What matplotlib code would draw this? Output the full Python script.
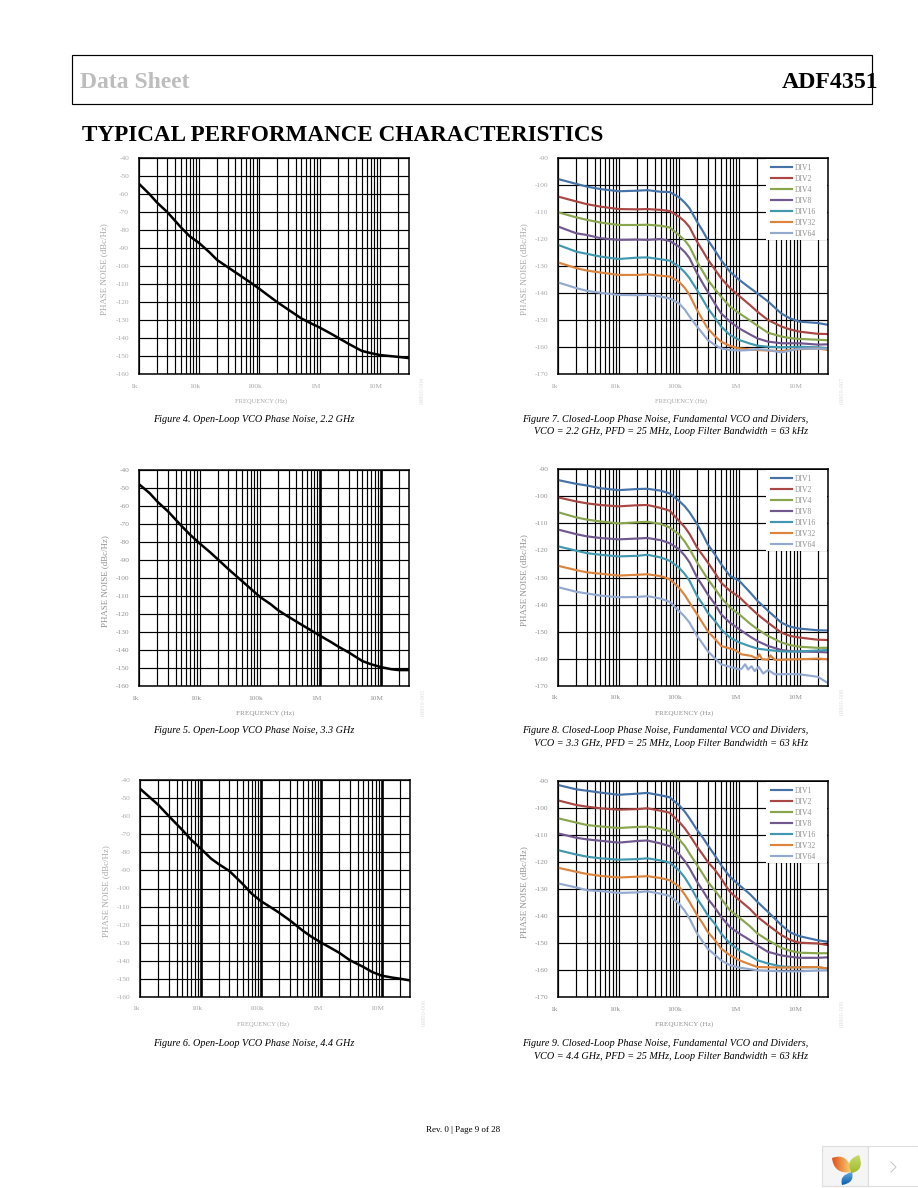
import numpy as np
import matplotlib
matplotlib.use('Agg')
import matplotlib.pyplot as plt
from matplotlib.patches import Rectangle, PathPatch
from matplotlib.path import Path
from matplotlib.colors import LinearSegmentedColormap
from matplotlib.ticker import FixedLocator, NullFormatter
from matplotlib.transforms import ScaledTranslation

plt.rcParams['font.family'] = ['Liberation Serif', 'DejaVu Serif']

W, H = 918, 1188

# open loop curves
freq_open = [1e3, 1.5e3, 2e3, 3e3, 5e3, 7e3, 1e4, 1.5e4, 2e4, 3e4, 5e4, 7e4, 1e5, 1.5e5, 2e5, 3e5, 5e5, 7e5, 1e6, 1.5e6, 2e6, 3e6, 5e6, 7e6, 1e7, 1.5e7, 2e7, 3e7]
fig4_noise = [-54, -59.8, -64.5, -70, -78.3, -83.3, -87, -92.3, -96.5, -100.5, -105.5, -108.8, -112.5, -116.9, -120, -124, -129, -131.5, -134, -137.2, -139.6, -143, -147, -148.2, -149.3, -149.9, -150.3, -151]
fig5_noise = [-48, -53, -57.6, -63, -71, -76, -80.7, -85.7, -89.5, -95, -101.5, -105.8, -110.4, -114.4, -117.8, -121.5, -126, -128.9, -132, -135.4, -138, -141.3, -146, -147.8, -149.3, -150.5, -151, -151]
fig6_noise = [-44.8, -50, -53.7, -60, -67.6, -73, -77.8, -83.5, -86.5, -90.3, -97.5, -102.8, -107, -110.7, -113.4, -117.6, -123.5, -126.9, -130, -133.3, -135.7, -139.8, -143.5, -146.3, -148.3, -149.4, -150, -151]

# closed loop curves
freq_closed = [1e3, 2e3, 3e3, 5e3, 1e4, 2e4, 3e4, 5e4, 7e4, 1e5, 1.25e5, 1.5e5, 2e5, 2.5e5, 3e5, 4e5, 5e5, 7e5, 1e6, 1.5e6, 2e6, 3e6, 5e6, 7e6, 1e7, 2e7, 3e7]

fig7_div1 = [-97.7, -99.5, -100.5, -101.4, -102.2, -102, -101.8, -102.4, -102.5, -104.4, -106.4, -108.5, -113.5, -117, -120.2, -124.3, -127.7, -132, -135, -138, -140, -143, -147.5, -149.3, -150.5, -151, -151.7]
fig7_div2 = [-104.2, -106, -107, -107.9, -108.8, -108.9, -108.8, -109.1, -109.5, -111.6, -113.4, -115.5, -120.9, -124.4, -127.4, -131.3, -134.4, -138, -141, -144.3, -146.8, -149.9, -152.3, -153.4, -154.2, -155, -155.1]
fig7_div4 = [-110, -111.9, -112.8, -113.8, -114.7, -114.7, -114.6, -115, -115.6, -118.4, -120.4, -122.7, -128.3, -132, -135, -138.6, -141.2, -144.9, -147.4, -150, -152, -154.6, -156, -156.6, -156.9, -157.2, -157.4]
fig7_div8 = [-115.3, -117.8, -118.4, -119.6, -120.2, -120.1, -120.2, -119.9, -120.6, -122.7, -124.7, -127, -132.6, -136.4, -139.4, -144, -147.4, -150.5, -153, -155.2, -156.7, -157.9, -158.5, -158.5, -158.5, -159, -158.9]
fig7_div16 = [-122.1, -124.6, -125.4, -126.4, -127.3, -126.8, -126.7, -127.4, -127.9, -130.1, -132.2, -134.4, -138.8, -142.4, -145.5, -149.2, -152.3, -155.4, -157.3, -158.6, -159.4, -159.8, -160, -159.9, -159.8, -160, -160.4]
fig7_div32 = [-128.6, -130.7, -131.6, -132.3, -133.2, -133.2, -133, -133.5, -133.8, -135.7, -138, -140.6, -146.2, -150, -153, -156, -157.9, -159.5, -160.4, -160.8, -161, -161.2, -161.4, -161, -160.7, -160.4, -161]
fig7_div64 = [-136, -138.1, -139.1, -139.8, -140.6, -140.7, -140.6, -141.2, -141.9, -143.7, -146, -148.6, -152.3, -155, -157.3, -159.2, -160.4, -161, -161.2, -161, -160.7, -161, -161.9, -161.2, -160.5, -160.5, -160.5]

fig8_div1 = [-94, -95.4, -96, -97, -97.7, -97.3, -97.2, -97.9, -98.9, -101.6, -103.7, -105.9, -110.2, -114.2, -117.7, -121.6, -125, -129.4, -131.2, -135.4, -138.6, -142.3, -146.7, -148.2, -148.9, -149.5, -149.6]
fig8_div2 = [-100.4, -101.9, -102.6, -103.2, -103.7, -103.3, -103.2, -104.3, -105.3, -109, -111.4, -113.9, -118.9, -121.9, -124.4, -128.4, -131.9, -134.9, -137.2, -141, -143.6, -146.7, -150.4, -151.6, -152.2, -153, -153.1]
fig8_div4 = [-105.9, -107.8, -108.6, -109.3, -110, -109.6, -109.4, -110.2, -111.5, -114, -116.7, -119.5, -124.4, -127.8, -130.6, -134.3, -137.4, -141.1, -143.6, -147, -149.1, -151.6, -154, -155, -155.6, -156, -156]
fig8_div8 = [-112.3, -114, -114.8, -115.4, -115.9, -115.6, -115.4, -116.2, -117.3, -119.5, -121.9, -124.4, -130, -133.3, -136.2, -140, -143.6, -146.7, -149.1, -151.8, -153.5, -155.3, -156.8, -157.2, -157.4, -157.5, -157.7]
fig8_div16 = [-118.5, -120.1, -121, -121.6, -122.2, -122, -121.6, -122.6, -123.8, -126.3, -128.7, -131.2, -136.8, -140, -143, -146.2, -149.1, -152.2, -154, -155.4, -156.3, -156.8, -157.3, -157.4, -157.3, -157, -156.8]
# DIV32 and DIV64 ripple above 700 kHz, so they have their own frequency lists
freq_fig8_div32 = [1e3, 2e3, 3e3, 5e3, 1e4, 2e4, 3e4, 5e4, 7e4, 1e5, 1.25e5, 1.5e5, 2e5, 2.5e5, 3e5, 4e5, 5e5, 8.5e5, 1.09e6, 1.6e6, 1.95e6, 2.15e6, 2.4e6, 3e6, 3.3e6, 3.9e6, 7e6, 1e7, 2e7, 3e7]
fig8_div32 = [-125.7, -127.3, -128.1, -128.6, -129.3, -129, -128.8, -129.5, -130.6, -133.7, -136.5, -139.3, -143.6, -147, -149.8, -152.8, -155.3, -156.8, -158.4, -159, -160, -158.4, -160.2, -160.4, -158.8, -160.5, -160.3, -160.2, -160, -160.2]
freq_fig8_div64 = [1e3, 2e3, 3e3, 5e3, 1e4, 2e4, 3e4, 5e4, 7e4, 1e5, 1.25e5, 1.5e5, 2e5, 2.5e5, 3e5, 4e5, 5e5, 7e5, 1e6, 1.1e6, 1.25e6, 1.4e6, 1.6e6, 1.8e6, 2.1e6, 2.5e6, 3e6, 3.9e6, 7e6, 1e7, 2e7, 3e7]
fig8_div64 = [-133.6, -135.3, -135.9, -136.7, -137.3, -137.2, -136.9, -137.8, -139, -142.3, -144.5, -146.7, -151.6, -154.6, -157.2, -160, -162.1, -163, -164, -163.7, -162.1, -164, -162.8, -164.6, -163, -165.5, -164.2, -165.8, -165.7, -165.8, -166.7, -169.1]

fig9_div1 = [-91.5, -93.1, -93.6, -94.3, -95.1, -94.7, -94.4, -95.3, -96, -98.9, -101.3, -103.8, -108.1, -111, -113.7, -117.7, -121.1, -125.4, -128.5, -131.8, -134.7, -138.4, -143.3, -146, -147.4, -148.9, -149.5]
fig9_div2 = [-97.2, -98.9, -99.5, -100.1, -100.6, -100.4, -100.1, -101, -101.7, -105, -107.5, -110, -114.3, -117.3, -119.9, -123, -126, -131, -134, -137.3, -140.2, -143.3, -147, -148.8, -149.8, -150.1, -150.7]
fig9_div4 = [-103.8, -105.4, -106.3, -106.8, -107.4, -107, -106.9, -107.7, -108.5, -111.5, -114, -116.8, -121.1, -124.4, -127.3, -130.6, -133.5, -137.8, -140.5, -143.7, -146.4, -148.9, -151.7, -152.8, -153.5, -153.7, -153.7]
fig9_div8 = [-109.4, -111, -111.6, -112.1, -112.8, -112.2, -112, -113.1, -114.1, -117, -119.6, -122.3, -127.3, -130.6, -133.5, -137, -140.2, -144, -146.4, -148.8, -150.8, -153.2, -154.5, -155, -155.4, -155.4, -155.2]
fig9_div16 = [-115.6, -117.2, -118, -118.6, -119.1, -118.9, -118.6, -119.4, -120.2, -123, -125.7, -128.5, -133.5, -136.7, -139.6, -143, -146.4, -150.1, -152.6, -154.6, -156.3, -157.5, -158.6, -158.8, -158.9, -158.9, -159.4]
fig9_div32 = [-122.1, -123.6, -124.4, -125.1, -125.7, -125.4, -125.2, -125.9, -126.7, -129, -132, -134.7, -139.6, -142.8, -145.8, -149, -152, -154.4, -156.3, -157.8, -158.8, -158.9, -159, -159, -158.9, -158.8, -159.4]
fig9_div64 = [-127.9, -129.4, -130.4, -130.7, -131.4, -131.2, -130.8, -131.7, -132.5, -135.3, -138, -140.9, -146.4, -149.5, -152, -154.4, -156.3, -158.1, -159, -159.6, -160, -160.2, -160.4, -160.4, -160.4, -160.1, -160]

div_labels = ['DIV1', 'DIV2', 'DIV4', 'DIV8', 'DIV16', 'DIV32', 'DIV64']
div_colors = ['#4572A7', '#AA4643', '#89A54E', '#71588F', '#4198AF', '#DB843D', '#93A9CF']

xtick_vals = [1e3, 1e4, 1e5, 1e6, 1e7]
xtick_labels = ['1k', '10k', '100k', '1M', '10M']
open_yticks = list(range(-160, -30, 10))
closed_yticks = list(range(-170, -80, 10))

fig = plt.figure(figsize=(W / 100, H / 100), dpi=100, facecolor='white')


def make_axes(left, top, right, bottom, yticks, code, lab_color='#a8a8a8', thick=(), xlab=(4.7, -12.5)):
    ax = fig.add_axes([left / W, 1 - bottom / H, (right - left) / W, (bottom - top) / H])
    ax.set_xscale('log')
    ax.set_xlim(1e3, 3e7)
    ax.set_ylim(yticks[0], yticks[-1])
    ax.set_yticks(yticks)
    ax.set_yticklabels([str(v) for v in yticks])
    ax.set_xticks(xtick_vals)
    ax.set_xticklabels(xtick_labels)
    minor = [m * d for d in xtick_vals for m in range(2, 10) if m * d < 3e7]
    ax.xaxis.set_minor_locator(FixedLocator(minor))
    ax.xaxis.set_minor_formatter(NullFormatter())
    ax.tick_params(which='both', length=0)
    ax.tick_params(axis='x', pad=7, labelsize=5.3, labelcolor=lab_color)
    ax.tick_params(axis='y', pad=7, labelsize=5.3, labelcolor=lab_color)
    ax.grid(True, which='both', color='black', lw=0.85)
    ax.set_axisbelow(True)
    for v in thick:
        ax.axvline(v, color='black', lw=1.9, zorder=1)
    for s in ax.spines.values():
        s.set_linewidth(1.1)
    # the tick labels sit a little left of their grid lines
    shift = ScaledTranslation(-3 / 72, 0, fig.dpi_scale_trans)
    for t in ax.get_xticklabels():
        t.set_transform(t.get_transform() + shift)
    fig.text(((left + right) / 2 + xlab[1]) / W, 1 - (bottom + 27) / H, 'FREQUENCY (Hz)', color=lab_color,
             fontsize=xlab[0], ha='center', va='center')
    fig.text((left - 34.5) / W, 1 - ((top + bottom) / 2 + 3) / H, 'PHASE NOISE (dBc/Hz)', color=lab_color,
             fontsize=6.4, rotation=90, ha='center', va='center')
    fig.text((right + 14) / W, 1 - (bottom + 16) / H, code, color='#dddddd', fontsize=4.5,
             rotation=90, ha='center', va='center')
    return ax


def plot_closed(ax, series):
    for (fr, vals), lab, col in zip(series, div_labels, div_colors):
        ax.plot(fr, vals, color=col, lw=1.55, label=lab, solid_joinstyle='round')
    # white block behind the legend hides the grid
    ax.add_patch(Rectangle((0.769, 0.622), 0.227, 0.375, transform=ax.transAxes, fc='white', ec='none', zorder=1.5))
    ax.legend(loc='upper left', bbox_to_anchor=(0.779, 0.984), borderaxespad=0, fontsize=5.5,
              handlelength=2.8, handletextpad=0.3, labelspacing=0.39, borderpad=0.3,
              frameon=False, labelcolor='#909090')


open_xlab = (5.2, -9)
ax4 = make_axes(138.7, 158.3, 408.7, 374.3, open_yticks, '09800-004')
ax4.plot(freq_open, fig4_noise, color='black', lw=1.8)
ax5 = make_axes(139.3, 470, 409.3, 686.3, open_yticks, '09800-005', '#909090', thick=(1e6, 1e7), xlab=open_xlab)
ax5.plot(freq_open, fig5_noise, color='black', lw=1.8)
ax6 = make_axes(140.3, 780.3, 410.3, 996.7, open_yticks, '09800-006', thick=(1e4, 1e5, 1e6, 1e7))
ax6.plot(freq_open, fig6_noise, color='black', lw=1.8)

ax7 = make_axes(558.3, 158.3, 828.3, 374.3, closed_yticks, '09800-007')
plot_closed(ax7, [(freq_closed, v) for v in (fig7_div1, fig7_div2, fig7_div4, fig7_div8, fig7_div16, fig7_div32, fig7_div64)])
ax8 = make_axes(558.3, 469.3, 828.3, 685.7, closed_yticks, '09800-008', '#909090', xlab=open_xlab)
plot_closed(ax8, [(freq_closed, fig8_div1), (freq_closed, fig8_div2), (freq_closed, fig8_div4), (freq_closed, fig8_div8),
                  (freq_closed, fig8_div16), (freq_fig8_div32, fig8_div32), (freq_fig8_div64, fig8_div64)])
ax9 = make_axes(558.3, 781, 828.3, 997.3, closed_yticks, '09800-009', '#909090', xlab=open_xlab)
plot_closed(ax9, [(freq_closed, v) for v in (fig9_div1, fig9_div2, fig9_div4, fig9_div8, fig9_div16, fig9_div32, fig9_div64)])

# page furniture, in pixel coordinates
page = fig.add_axes([0, 0, 1, 1], zorder=10)
page.set_xlim(0, W)
page.set_ylim(H, 0)
page.axis('off')
page.patch.set_alpha(0)

page.add_patch(Rectangle((72.3, 54.5), 800, 49.7, fill=False, ec='black', lw=0.85))
page.text(80, 82.5, 'Data Sheet', fontsize=17, fontweight='bold', color='#bdbdbd', va='center')
page.text(782, 82.5, 'ADF4351', fontsize=17.2, fontweight='bold', color='black', va='center')
page.text(82, 135.5, 'TYPICAL PERFORMANCE CHARACTERISTICS', fontsize=16.65, fontweight='bold', color='black', va='center')

captions = [
    (153, 419.5, 'Figure 4. Open-Loop VCO Phase Noise, 2.2 GHz'),
    (153, 730.5, 'Figure 5. Open-Loop VCO Phase Noise, 3.3 GHz'),
    (153, 1043.5, 'Figure 6. Open-Loop VCO Phase Noise, 4.4 GHz'),
    (522, 419, 'Figure 7. Closed-Loop Phase Noise, Fundamental VCO and Dividers,'),
    (534, 432, 'VCO = 2.2 GHz, PFD = 25 MHz, Loop Filter Bandwidth = 63 kHz'),
    (522, 730.5, 'Figure 8. Closed-Loop Phase Noise, Fundamental VCO and Dividers,'),
    (534, 744, 'VCO = 3.3 GHz, PFD = 25 MHz, Loop Filter Bandwidth = 63 kHz'),
    (522, 1043.5, 'Figure 9. Closed-Loop Phase Noise, Fundamental VCO and Dividers,'),
    (534, 1056.5, 'VCO = 4.4 GHz, PFD = 25 MHz, Loop Filter Bandwidth = 63 kHz'),
]
for x, y, s in captions:
    page.text(x, y, s, fontsize=7.3, style='italic', color='black', va='center')
page.text(463.5, 1129.5, 'Rev. 0 | Page 9 of 28', fontsize=6.5, color='black', ha='center', va='center')

# viewer widget bottom right
page.add_patch(Rectangle((822, 1146), 46, 40, fc='#f5f5f5', ec='#dddddd', lw=0.8))
page.add_patch(Rectangle((868, 1146), 49.5, 40, fc='white', ec='#dddddd', lw=0.8))
page.plot([891, 896, 891], [1162, 1167, 1172], color='#c4c4c4', lw=0.7)


def petal(verts, c1, c2, vertical):
    path = Path(verts, [Path.MOVETO, Path.CURVE3, Path.CURVE3, Path.CURVE3, Path.CURVE3])
    xs = [v[0] for v in verts]
    ys = [v[1] for v in verts]
    grad = np.linspace(0, 1, 32).reshape(-1, 1) if vertical else np.linspace(0, 1, 32).reshape(1, -1)
    cmap = LinearSegmentedColormap.from_list('p', [c1, c2])
    im = page.imshow(grad, cmap=cmap, extent=(min(xs), max(xs), max(ys), min(ys)), aspect='auto', zorder=3)
    im.set_clip_path(PathPatch(path, transform=page.transData))


petal([(832, 1158), (848, 1152), (852, 1172), (834, 1175), (832, 1158)], '#e2501d', '#f7d774', False)
petal([(859, 1155), (865, 1170), (852, 1173), (844, 1160), (859, 1155)], '#c9d96a', '#9cbe2c', True)
petal([(852, 1172), (855, 1183), (842, 1185), (839, 1175), (852, 1172)], '#62a8dc', '#0a5fb0', True)
page.set_xlim(0, W)
page.set_ylim(H, 0)

fig.savefig('out.png', dpi=100)
